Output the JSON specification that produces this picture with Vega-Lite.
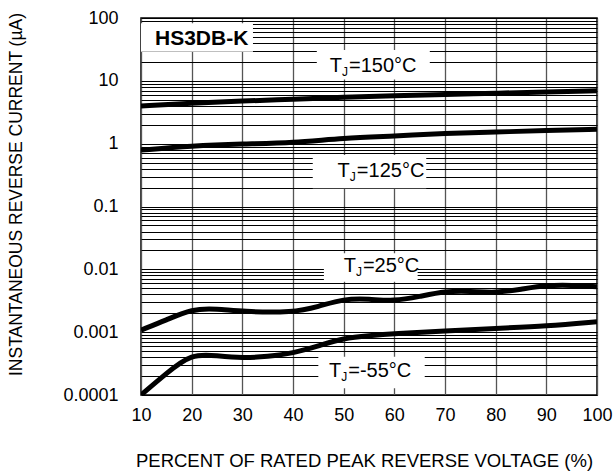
{
  "$schema": "https://vega.github.io/schema/vega-lite/v6.json",
  "width": 456,
  "height": 377,
  "autosize": {"type": "none"},
  "padding": {"left": 141, "top": 18, "right": 16, "bottom": 79},
  "background": "white",
  "config": {
    "font": "Liberation Sans",
    "view": {"stroke": "black", "strokeWidth": 1.5}
  },
  "datasets": {
    "curves": [
      {"v": 10, "i": 3.98, "s": "150"}, {"v": 20, "i": 4.4, "s": "150"}, {"v": 30, "i": 4.78, "s": "150"}, {"v": 40, "i": 5.09, "s": "150"}, {"v": 50, "i": 5.47, "s": "150"}, {"v": 60, "i": 5.8, "s": "150"}, {"v": 70, "i": 6.1, "s": "150"}, {"v": 80, "i": 6.34, "s": "150"}, {"v": 90, "i": 6.65, "s": "150"}, {"v": 100, "i": 6.97, "s": "150"},
      {"v": 10, "i": 0.79, "s": "125"}, {"v": 20, "i": 0.92, "s": "125"}, {"v": 30, "i": 0.99, "s": "125"}, {"v": 40, "i": 1.03, "s": "125"}, {"v": 50, "i": 1.23, "s": "125"}, {"v": 60, "i": 1.32, "s": "125"}, {"v": 70, "i": 1.46, "s": "125"}, {"v": 80, "i": 1.53, "s": "125"}, {"v": 90, "i": 1.62, "s": "125"}, {"v": 100, "i": 1.69, "s": "125"},
      {"v": 10, "i": 0.00108, "s": "25"}, {"v": 15, "i": 0.00156, "s": "25"}, {"v": 20, "i": 0.00235, "s": "25"}, {"v": 25, "i": 0.00235, "s": "25"}, {"v": 30, "i": 0.00212, "s": "25"}, {"v": 40, "i": 0.00205, "s": "25"}, {"v": 45, "i": 0.00255, "s": "25"}, {"v": 50, "i": 0.0034, "s": "25"}, {"v": 55, "i": 0.00338, "s": "25"}, {"v": 60, "i": 0.0031, "s": "25"}, {"v": 65, "i": 0.0037, "s": "25"}, {"v": 70, "i": 0.0045, "s": "25"}, {"v": 75, "i": 0.0045, "s": "25"}, {"v": 80, "i": 0.0042, "s": "25"}, {"v": 85, "i": 0.0048, "s": "25"}, {"v": 90, "i": 0.0056, "s": "25"}, {"v": 95, "i": 0.0056, "s": "25"}, {"v": 100, "i": 0.0053, "s": "25"},
      {"v": 10, "i": 0.0001, "s": "-55"}, {"v": 15, "i": 0.000221, "s": "-55"}, {"v": 20, "i": 0.00046, "s": "-55"}, {"v": 25, "i": 0.00042, "s": "-55"}, {"v": 30, "i": 0.000385, "s": "-55"}, {"v": 35, "i": 0.00041, "s": "-55"}, {"v": 40, "i": 0.000461, "s": "-55"}, {"v": 45, "i": 0.000603, "s": "-55"}, {"v": 50, "i": 0.000805, "s": "-55"}, {"v": 55, "i": 0.00088, "s": "-55"}, {"v": 60, "i": 0.000944, "s": "-55"}, {"v": 70, "i": 0.00105, "s": "-55"}, {"v": 80, "i": 0.00115, "s": "-55"}, {"v": 90, "i": 0.00125, "s": "-55"}, {"v": 100, "i": 0.00147, "s": "-55"}
    ],
    "boxes": [
      {"x1": 10, "x2": 32.1, "y1": 29.1, "y2": 82.3},
      {"x1": 44.7, "x2": 67.0, "y1": 10.5, "y2": 31},
      {"x1": 43.9, "x2": 66.3, "y1": 0.195, "y2": 0.66},
      {"x1": 46.1, "x2": 64.6, "y1": 0.00635, "y2": 0.018},
      {"x1": 45.0, "x2": 66.0, "y1": 0.000128, "y2": 0.000407}
    ],
    "labels": [
      {"x": 51.05, "y": 17.4, "rest": "=150°C"},
      {"x": 52.6, "y": 0.37, "rest": "=125°C"},
      {"x": 53.8, "y": 0.0114, "rest": "=25°C"},
      {"x": 50.9, "y": 0.000243, "rest": "=-55°C"}
    ],
    "title": [
      {"x": 12.76, "y": 46, "t": "HS3DB-K"}
    ]
  },
  "layer": [
    {
      "data": {"name": "boxes"},
      "mark": {"type": "rect", "fill": "white", "stroke": null},
      "encoding": {
        "x": {
          "field": "x1", "type": "quantitative",
          "scale": {"domain": [10, 100], "nice": false, "zero": false},
          "axis": {
            "title": "PERCENT OF RATED PEAK REVERSE VOLTAGE (%)",
            "values": [10, 20, 30, 40, 50, 60, 70, 80, 90, 100],
            "grid": true, "gridColor": "#555", "gridWidth": 1.3, "gridOpacity": 1,
            "ticks": false, "domain": false,
            "labelFontSize": 18, "labelColor": "black", "labelPadding": 11,
            "labelFlush": false, "labelOverlap": false,
            "titleFontSize": 18.5, "titleFontWeight": "normal", "titleColor": "black",
            "titleX": 223, "titleY": 65, "titleBaseline": "middle", "titleAlign": "center", "titleAnchor": null
          }
        },
        "x2": {"field": "x2"},
        "y": {
          "field": "y1", "type": "quantitative",
          "scale": {"type": "log", "domain": [0.0001, 100], "nice": false},
          "axis": {
            "title": "INSTANTANEOUS REVERSE CURRENT (µA)",
            "values": [0.0001, 0.0002, 0.0003, 0.0004, 0.0005, 0.0006, 0.0007, 0.0008, 0.0009, 0.001, 0.002, 0.003, 0.004, 0.005, 0.006, 0.007, 0.008, 0.009, 0.01, 0.02, 0.03, 0.04, 0.05, 0.06, 0.07, 0.08, 0.09, 0.1, 0.2, 0.3, 0.4, 0.5, 0.6, 0.7, 0.8, 0.9, 1, 2, 3, 4, 5, 6, 7, 8, 9, 10, 20, 30, 40, 50, 60, 70, 80, 90, 100],
            "format": "~g",
            "labelExpr": "indexof([0.0001, 0.001, 0.01, 0.1, 1, 10, 100], datum.value) >= 0 ? datum.label : ''",
            "grid": true, "gridColor": "black", "gridWidth": 1, "gridOpacity": 1,
            "ticks": false, "domain": false,
            "labelFontSize": 18, "labelColor": "black", "labelPadding": 23,
            "labelOverlap": false, "labelFlush": false,
            "titleFontSize": 17.5, "titleFontWeight": "normal", "titleColor": "black",
            "titleX": -125, "titleY": 176, "titleAngle": -90, "titleBaseline": "middle", "titleAlign": "center", "titleAnchor": null
          }
        },
        "y2": {"field": "y2"}
      }
    },
    {
      "data": {"name": "curves"},
      "mark": {"type": "line", "color": "black", "strokeWidth": 5, "interpolate": "basis", "clip": true},
      "encoding": {
        "x": {"field": "v", "type": "quantitative"},
        "y": {"field": "i", "type": "quantitative"},
        "detail": {"field": "s"}
      }
    },
    {
      "data": {"name": "labels"},
      "mark": {"type": "text", "align": "right", "baseline": "middle", "fontSize": 20, "dx": -7, "color": "black"},
      "encoding": {
        "x": {"field": "x", "type": "quantitative"},
        "y": {"field": "y", "type": "quantitative"},
        "text": {"value": "T"}
      }
    },
    {
      "data": {"name": "labels"},
      "mark": {"type": "text", "align": "center", "baseline": "middle", "fontSize": 12, "dx": -4, "dy": 6, "color": "black"},
      "encoding": {
        "x": {"field": "x", "type": "quantitative"},
        "y": {"field": "y", "type": "quantitative"},
        "text": {"value": "J"}
      }
    },
    {
      "data": {"name": "labels"},
      "mark": {"type": "text", "align": "left", "baseline": "middle", "fontSize": 20, "color": "black"},
      "encoding": {
        "x": {"field": "x", "type": "quantitative"},
        "y": {"field": "y", "type": "quantitative"},
        "text": {"field": "rest"}
      }
    },
    {
      "data": {"name": "title"},
      "mark": {"type": "text", "align": "left", "baseline": "middle", "fontSize": 21, "fontWeight": "bold", "color": "black"},
      "encoding": {
        "x": {"field": "x", "type": "quantitative"},
        "y": {"field": "y", "type": "quantitative"},
        "text": {"field": "t"}
      }
    }
  ]
}
